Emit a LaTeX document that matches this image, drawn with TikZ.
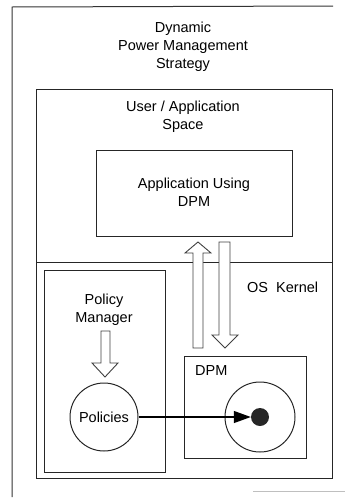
\documentclass[tikz,border=0pt]{standalone}
\usepackage{fontspec}
\setmainfont{Liberation Sans}
\usetikzlibrary{arrows.meta}
\begin{document}
\begin{tikzpicture}[x=1pt,y=-1pt,
  box/.style={draw=black!85, line width=1.3pt, rectangle, anchor=north west, inner sep=0pt},
  lbl/.style={align=center, font=\fontsize{14.5}{18}\selectfont, inner sep=0pt},
  hollow/.style={draw=black!75, line width=0.9pt, fill=white, line join=miter},
  circ/.style={draw=black!85, line width=1pt, circle, inner sep=0pt}]
\useasboundingbox (0,0) rectangle (345,501);
% outer frame (partially drawn)
\coordinate (oTL) at (12,7);
\coordinate (oBL) at (12,497);
\coordinate (oTR) at (333,6);
\draw[black!80, line width=1pt] (oBL) -- (oTL) -- (oTR);
\coordinate (fA) at (253,491);
\coordinate (fB) at (345,491);
\draw[black!25, line width=0.8pt] (fA) -- (fB);
\node[lbl] (title) at (183,47) {Dynamic\\Power Management\\Strategy};
% user space
\node[box, minimum width=296pt, minimum height=173pt] (user) at (36,89) {};
\node[lbl] (userlbl) at (183,117) {User / Application\\Space};
\node[box, minimum width=196pt, minimum height=86pt] (app) at (96,150) {};
\node[lbl] (applbl) at (194,192) {Application Using\\DPM};
% kernel
\node[box, minimum width=296pt, minimum height=216pt] (kern) at (36,262) {};
\node[lbl, anchor=west] (oslbl) at (247,287) {OS\ \ Kernel};
% policy manager
\node[box, minimum width=121pt, minimum height=202pt] (pm) at (44,270) {};
\node[lbl] (pmlbl) at (104,310) {Policy\\Manager};
\node[circ, minimum size=68pt] (pol) at (104,417) {};
\node[lbl] (pollbl) at (pol.center) {Policies};
% DPM box
\node[box, minimum width=122pt, minimum height=102pt] (dpm) at (184,356) {};
\node[lbl, anchor=west] (dpmlbl) at (195,371) {DPM};
\node[circ, minimum size=70pt] (dc) at (260,417) {};
\node[circle, fill=black!85, minimum size=18pt, inner sep=0pt] (dot) at (260,417) {};
% connector
\draw[line width=1.2pt, -{Triangle[length=17pt,width=12pt]}] (pol.east) -- (dot.west);
% hollow arrows
\draw[hollow] (193,348) -- (193,253) -- (185,253) -- (198,242) -- (211,253) -- (203,253) -- (203,348) -- cycle;
\draw[hollow] (219,242) -- (219,335) -- (212,335) -- (225,348) -- (238,335) -- (230,335) -- (230,242) -- cycle;
\draw[hollow] (101,331) -- (101,363) -- (92,363) -- (105,377) -- (118,363) -- (110,363) -- (110,331) -- cycle;
\end{tikzpicture}
\end{document}
